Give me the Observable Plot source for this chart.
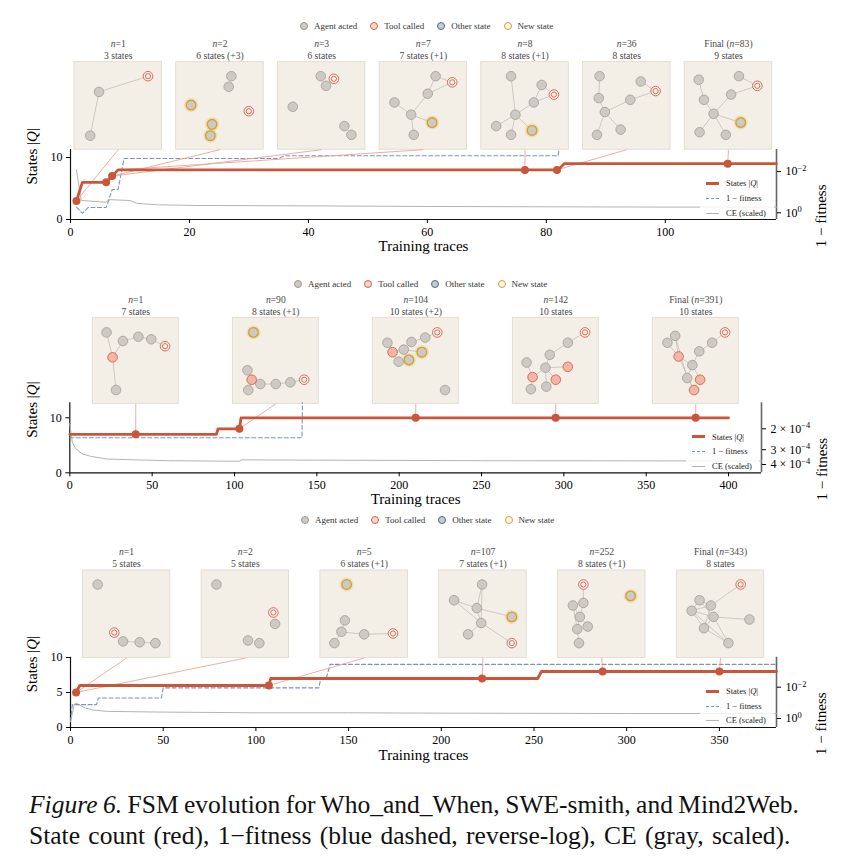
<!DOCTYPE html>
<html><head><meta charset="utf-8">
<script src="https://cdn.jsdelivr.net/npm/d3@7"></script>
<script src="https://cdn.jsdelivr.net/npm/@observablehq/plot@0.6"></script>
<style>
html,body{margin:0;padding:0;background:#fff;overflow:hidden;}
#page{position:relative;width:856px;height:867px;overflow:hidden;font-family:"Liberation Serif",serif;}
.panel{position:absolute;left:0;}
.toplegend{position:absolute;display:flex;align-items:center;font-size:9px;color:#333;white-space:nowrap;height:12px;}
.toplegend .it{display:flex;align-items:center;margin-right:13px;}
.toplegend .mk{width:6px;height:6px;border-radius:50%;border:1.5px solid;margin-right:6px;}
.inleg{position:absolute;background:rgba(255,255,255,0.8);font-size:8.5px;color:#222;}
.inleg .row{position:absolute;left:0;height:10px;display:flex;align-items:center;white-space:nowrap;}
.inleg .smp{width:13px;margin-left:6px;margin-right:7px;}
.caption{position:absolute;left:29px;top:789px;font-size:25.5px;line-height:31px;color:#111;white-space:nowrap;}
.caption .l1{word-spacing:-0.9px;}
.caption .l2{word-spacing:2px;}
</style></head>
<body><div id="page"></div>
<script>
// ---------------- Panel 1: Who_and_When ----------------
const p1StateX = [1, 2, 6, 7, 8, 82, 83, 118.7];
const p1StateY = [3, 6, 6, 7, 8, 8, 9, 9];
const p1FitX = [1, 2, 3, 6, 7, 8, 9, 35, 36, 82, 82.3];
const p1FitV = [0.53, 1.05, 0.55, 0.55, 0.074, 0.074, 0.0023, 0.0023, 0.0017, 0.0017, 0.0003];
const p1CeX = [1, 1.8, 5.9, 6.7, 10, 11.2, 14.6, 21.8, 40, 60, 80, 100, 118.7];
const p1CeY = [8.0, 3.06, 2.8, 3.2, 3.06, 2.6, 2.37, 2.26, 2.2, 2.1, 2.05, 2.0, 2.0];
const p1MarkX = [1, 6, 7, 76.4, 81.8, 110.5];
const p1MarkY = [3, 6, 7, 8, 8, 9];
const p1Titles = ["n=1", "n=2", "n=3", "n=7", "n=8", "n=36", "Final (n=83)"];
const p1Subs = ["3 states", "6 states (+3)", "6 states", "7 states (+1)", "8 states (+1)", "8 states", "9 states"];
const p1LinkX = [1, 7, 7, 8, 76.4, 81.8, 110.5];
const p1LinkY = [3, 7, 7, 8, 8, 8, 9];
const p1XTicks = [0, 20, 40, 60, 80, 100];
const p1YTicks = [0, 10];
const p1FitTicks = [1, 0.01];
const p1FitLabels = ["10^0", "10^−2"];
const p1Nodes = [
  [[0.28,0.34,"a"],[0.18,0.84,"a"],[0.84,0.16,"t"]],
  [[0.63,0.16,"a"],[0.60,0.28,"a"],[0.17,0.49,"n"],[0.83,0.56,"t"],[0.41,0.71,"n"],[0.39,0.84,"n"]],
  [[0.49,0.16,"a"],[0.64,0.19,"t"],[0.55,0.27,"a"],[0.17,0.51,"a"],[0.76,0.73,"a"],[0.84,0.83,"a"]],
  [[0.64,0.16,"a"],[0.83,0.23,"t"],[0.55,0.36,"a"],[0.17,0.46,"a"],[0.36,0.60,"a"],[0.60,0.69,"n"],[0.39,0.83,"a"]],
  [[0.34,0.16,"a"],[0.69,0.26,"a"],[0.83,0.37,"t"],[0.60,0.46,"a"],[0.39,0.60,"a"],[0.17,0.73,"a"],[0.58,0.78,"n"],[0.34,0.83,"a"]],
  [[0.19,0.16,"a"],[0.66,0.22,"a"],[0.83,0.33,"t"],[0.18,0.41,"a"],[0.54,0.43,"a"],[0.25,0.57,"a"],[0.43,0.77,"a"],[0.16,0.83,"a"]],
  [[0.16,0.20,"a"],[0.62,0.16,"a"],[0.83,0.27,"t"],[0.53,0.37,"a"],[0.22,0.43,"a"],[0.33,0.59,"a"],[0.64,0.69,"n"],[0.17,0.80,"a"],[0.47,0.83,"a"]]
];
const p1Edges = [
  [[0,2],[0,1]], [], [],
  [[0,2],[1,2],[1,0],[2,4],[3,4],[4,5],[4,6]],
  [[0,4],[2,1],[2,3],[1,3],[3,4],[4,5],[4,6],[4,7]],
  [[0,3],[2,1],[2,4],[4,5],[3,5],[5,6],[5,7]],
  [[0,4],[2,1],[2,3],[3,5],[4,5],[5,6],[5,7],[5,8]]
];

// ---------------- Panel 2: SWE-smith ----------------
const p2StateX = [0, 89, 90, 103, 104, 400];
const p2StateY = [7, 7, 8, 8, 10, 10];
const p2FitX = [0, 141, 141.3];
const p2FitV = [2.38e-4, 2.38e-4, 1.0e-4];
const p2CeX = [0, 1.5, 3.5, 7.5, 12.6, 22.7, 40, 60, 100, 103, 104, 150, 250, 420];
const p2CeY = [8.9, 5.6, 4.4, 3.45, 3.0, 2.5, 2.35, 2.2, 2.1, 2.1, 2.35, 2.3, 2.2, 2.15];
const p2MarkX = [40, 103, 210, 295, 380];
const p2MarkY = [7, 8, 10, 10, 10];
const p2Titles = ["n=1", "n=90", "n=104", "n=142", "Final (n=391)"];
const p2Subs = ["7 states", "8 states (+1)", "10 states (+2)", "10 states", "10 states"];
const p2LinkX = [40, 103, 210, 295, 380];
const p2LinkY = [7, 8, 10, 10, 10];
const p2XTicks = [0, 50, 100, 150, 200, 250, 300, 350, 400];
const p2YTicks = [0, 10];
const p2FitTicks = [2e-4, 3e-4, 4e-4];
const p2FitLabels = ["2 × 10^−4", "3 × 10^−4", "4 × 10^−4"];
const p2Nodes = [
  [[0.16,0.17,"a"],[0.35,0.27,"a"],[0.53,0.22,"a"],[0.68,0.25,"a"],[0.84,0.33,"t"],[0.23,0.46,"r"],[0.27,0.84,"a"]],
  [[0.24,0.17,"n"],[0.17,0.61,"a"],[0.22,0.72,"r"],[0.32,0.77,"a"],[0.50,0.77,"a"],[0.67,0.75,"a"],[0.83,0.72,"t"],[0.18,0.84,"a"]],
  [[0.75,0.17,"t"],[0.61,0.23,"a"],[0.45,0.28,"a"],[0.17,0.29,"a"],[0.36,0.37,"a"],[0.23,0.40,"r"],[0.57,0.40,"n"],[0.30,0.51,"a"],[0.42,0.49,"n"],[0.84,0.84,"a"]],
  [[0.84,0.17,"t"],[0.64,0.29,"a"],[0.43,0.43,"a"],[0.16,0.52,"a"],[0.38,0.58,"a"],[0.64,0.57,"r"],[0.23,0.69,"r"],[0.50,0.72,"r"],[0.21,0.83,"a"],[0.39,0.80,"a"]],
  [[0.84,0.17,"t"],[0.26,0.21,"a"],[0.17,0.29,"a"],[0.69,0.29,"a"],[0.54,0.39,"a"],[0.30,0.45,"r"],[0.46,0.55,"a"],[0.40,0.70,"a"],[0.55,0.72,"r"],[0.48,0.84,"r"]]
];
const p2Edges = [
  [[0,5],[1,5],[5,6],[1,2],[2,3],[3,4]],
  [[1,2],[2,3],[3,4],[4,5],[5,6],[2,7]],
  [[0,1],[1,2],[2,4],[4,6],[4,5],[3,5],[5,7],[4,8]],
  [[0,1],[1,2],[2,4],[5,4],[3,6],[4,6],[4,7],[6,8],[4,9]],
  [[0,3],[3,4],[4,6],[1,5],[2,5],[5,6],[6,7],[6,8],[7,9],[1,7],[5,9]]
];

// ---------------- Panel 3: Mind2Web ----------------
const p3StateX = [3, 5, 107, 108, 252, 254, 380.8];
const p3StateY = [5, 6, 6, 7, 7, 8, 8];
const p3FitX = [0, 1, 14, 15, 49, 50, 134, 135, 138, 140, 380.8];
const p3FitV = [1.5, 0.13, 0.13, 0.049, 0.049, 0.011, 0.011, 0.0026, 0.0026, 0.00035, 0.00035];
const p3CeX = [0, 1, 2, 3, 5, 8, 12, 20, 50, 100, 150, 200, 300, 380.8];
const p3CeY = [0.8, 2.0, 3.3, 3.5, 3.2, 2.8, 2.5, 2.3, 2.2, 2.1, 2.1, 2.05, 2.0, 2.0];
const p3MarkX = [3, 107, 222, 287, 350];
const p3MarkY = [5, 6, 7, 8, 8];
const p3Titles = ["n=1", "n=2", "n=5", "n=107", "n=252", "Final (n=343)"];
const p3Subs = ["5 states", "5 states", "6 states (+1)", "7 states (+1)", "8 states (+1)", "8 states"];
const p3LinkX = [3, 3, 107, 222, 287, 350];
const p3LinkY = [5, 5, 6, 7, 8, 8];
const p3XTicks = [0, 50, 100, 150, 200, 250, 300, 350];
const p3YTicks = [0, 5, 10];
const p3FitTicks = [1, 0.01];
const p3FitLabels = ["10^0", "10^−2"];
const p3Nodes = [
  [[0.17,0.16,"a"],[0.36,0.71,"t"],[0.46,0.81,"a"],[0.65,0.82,"a"],[0.83,0.83,"a"]],
  [[0.17,0.16,"a"],[0.82,0.48,"t"],[0.84,0.61,"a"],[0.53,0.80,"a"],[0.66,0.83,"a"]],
  [[0.30,0.16,"n"],[0.28,0.57,"a"],[0.24,0.70,"a"],[0.50,0.73,"a"],[0.83,0.72,"t"],[0.16,0.83,"a"]],
  [[0.49,0.16,"a"],[0.17,0.34,"a"],[0.43,0.43,"a"],[0.83,0.53,"n"],[0.48,0.60,"a"],[0.33,0.73,"a"],[0.83,0.83,"t"]],
  [[0.29,0.16,"t"],[0.83,0.29,"n"],[0.29,0.37,"a"],[0.17,0.40,"a"],[0.25,0.53,"a"],[0.34,0.64,"a"],[0.22,0.67,"a"],[0.24,0.83,"a"]],
  [[0.73,0.16,"t"],[0.26,0.34,"a"],[0.39,0.40,"a"],[0.17,0.46,"a"],[0.42,0.53,"a"],[0.83,0.56,"a"],[0.31,0.66,"a"],[0.59,0.83,"a"]]
];
const p3Edges = [
  [[2,3],[3,4]], [],
  [[4,3],[3,2],[2,1],[2,5]],
  [[0,2],[1,2],[1,4],[3,2],[2,4],[4,5],[6,4],[0,4]],
  [[0,2],[2,4],[3,4],[4,5],[4,6],[6,7],[3,6]],
  [[0,2],[5,4],[1,2],[1,3],[2,3],[3,4],[1,4],[2,6],[3,6],[4,6],[6,7],[3,7],[4,7]]
];

// legend
const legendNames = ["Agent acted", "Tool called", "Other state", "New state"];
const legendFill = ["#cdc9c3", "#f5d6ce", "#cdc9c3", "#fbf6ea"];
const legendStroke = ["#9e9992", "#d9604a", "#4a6a9a", "#d2a033"];

const RED = "#c9553b", BLUE = "#7d94b8", CEG = "#b8b3ad";
const FONT = "Liberation Serif";
const page = document.getElementById("page");

function enrich(el) {
  const s = el.textContent;
  if (!/n=|\|Q\||\^/.test(s)) return;
  let h = s.replace(/&/g, "&amp;").replace(/</g, "&lt;");
  h = h.replace(/(^|\()n=/g, '$1<tspan font-style="italic">n</tspan>=');
  h = h.replace(/\|Q\|/g, '|<tspan font-style="italic">Q</tspan>|');
  h = h.replace(/\^(\S+)/g, '<tspan dy="-0.5em" font-size="0.7em">$1</tspan>');
  el.innerHTML = h;
}

function makePanel(c) {
  const top = c.top, H = c.height;
  const xs = d3.scaleLinear().domain([0, c.xmax]).range([c.x0, c.x1]);
  const ys = d3.scaleLinear().domain([0, 10]).range([c.y0 - top, c.y10 - top]);
  const yTop = ys.invert(c.spineTop - top);
  const fy = d3.scaleLog().domain(c.fitRef).range(c.fitRefPx.map(p => ys.invert(p - top)));
  const boxes = c.titles.map((t, i) => {
    const L = c.boxLeft + i * c.boxStep;
    return {title: t, sub: c.subs[i],
      x1: xs.invert(L), x2: xs.invert(L + c.boxSize),
      yt: ys.invert(c.boxTop - top), yb: ys.invert(c.boxTop + c.boxSize - top),
      cx: xs.invert(L + c.boxSize / 2), ty: ys.invert(c.titleY - top), sy: ys.invert(c.subY - top),
      lx: c.linkX[i], ly: c.linkY[i]};
  });
  const nodes = [], edges = [];
  c.nodes.forEach((ns, i) => {
    const L = c.boxLeft + i * c.boxStep, T = c.boxTop - top;
    const pts = ns.map(([u, v, k]) => ({x: xs.invert(L + u * c.boxSize), y: ys.invert(T + v * c.boxSize), k}));
    nodes.push(...pts);
    (c.edges[i] || []).forEach(([a, b]) => edges.push({x1: pts[a].x, y1: pts[a].y, x2: pts[b].x, y2: pts[b].y}));
  });
  const by = k => nodes.filter(d => d.k === k);
  const state = c.stateX.map((x, i) => ({x, y: c.stateY[i]}));
  const fit = c.fitX.map((x, i) => ({x, y: fy(c.fitV[i])}));
  const ce = c.ceX.map((x, i) => ({x, y: c.ceY[i]}));
  const mk = c.markX.map((x, i) => ({x, y: c.markY[i]}));
  const labelOf = new Map(c.fitTicks.map((v, i) => [fy(v), c.fitLabels[i]]));
  const svg = Plot.plot({
    width: 856, height: H,
    marginLeft: c.x0, marginRight: 856 - c.x1, marginTop: c.spineTop - top, marginBottom: H - (c.y0 - top),
    x: {domain: [0, c.xmax], range: [c.x0, c.x1]},
    y: {domain: [0, 10], range: [c.y0 - top, c.y10 - top]},
    style: {fontFamily: "'Liberation Serif', serif", background: "transparent", overflow: "visible"},
    marks: [
      Plot.rect(boxes, {x1: "x1", x2: "x2", y1: "yb", y2: "yt", fill: "#f3efe7", stroke: "#ddd7cc", strokeWidth: 0.8}),
      Plot.text(boxes, {x: "cx", y: "ty", text: "title", fontSize: 9.6, fill: "#4a4a4a", fontFamily: FONT}),
      Plot.text(boxes, {x: "cx", y: "sy", text: "sub", fontSize: 9.6, fill: "#4a4a4a", fontFamily: FONT}),
      Plot.link(edges, {x1: "x1", y1: "y1", x2: "x2", y2: "y2", stroke: "#bdb8b1", strokeWidth: 0.7}),
      Plot.dot(by("n"), {x: "x", y: "y", r: 7, fill: "#e9c77c", fillOpacity: 0.45}),
      Plot.dot(by("a"), {x: "x", y: "y", r: 4.8, fill: "#cdc9c3", stroke: "#a29d96", strokeWidth: 0.8}),
      Plot.dot(by("n"), {x: "x", y: "y", r: 4.8, fill: "#cdc9c3", stroke: "#d2a033", strokeWidth: 1.3}),
      Plot.dot(by("r"), {x: "x", y: "y", r: 4.8, fill: "#f2b6a9", stroke: "#d9604a", strokeWidth: 0.9}),
      Plot.dot(by("t"), {x: "x", y: "y", r: 4.8, fill: "#f8f3ee", stroke: "#dc6a55", strokeWidth: 1}),
      Plot.dot(by("t"), {x: "x", y: "y", r: 2.6, fill: "none", stroke: "#dc6a55", strokeWidth: 1}),
      Plot.ruleX([0], {y1: 0, y2: yTop, stroke: "#111", strokeWidth: 1.2}),
      Plot.ruleY([0], {x1: 0, x2: c.xmax, stroke: "#111", strokeWidth: 1.2}),
      Plot.ruleX([c.xmax], {y1: 0, y2: yTop, stroke: "#666", strokeWidth: 1.6}),
      Plot.line(ce, {x: "x", y: "y", stroke: CEG, strokeWidth: 1}),
      Plot.line(fit, {x: "x", y: "y", stroke: BLUE, strokeWidth: 1.1, strokeDasharray: "4,2.5", clip: true}),
      Plot.link(boxes, {x1: "cx", y1: "yb", x2: "lx", y2: "ly", stroke: "#eba596", strokeWidth: 0.9}),
      Plot.line(state, {x: "x", y: "y", stroke: RED, strokeWidth: 2.8}),
      Plot.dot(mk, {x: "x", y: "y", r: 4, fill: RED}),
      Plot.axisX(c.xTicks, {anchor: "bottom", tickSize: 4, tickPadding: 4, fontSize: 12, fontFamily: FONT, label: null}),
      Plot.axisY(c.yTicks, {anchor: "left", tickSize: 4, tickPadding: 4, fontSize: 12, fontFamily: FONT, label: null}),
      Plot.axisY(c.fitTicks.map(fy), {anchor: "right", tickSize: 4, tickPadding: 5, fontSize: 12, fontFamily: FONT, label: null, tickFormat: d => labelOf.get(d)}),
      Plot.text(["Training traces"], {text: d => d, frameAnchor: "bottom", dy: c.xLabelDy, fontSize: 15, fontFamily: FONT}),
      Plot.text(["States |Q|"], {text: d => d, frameAnchor: "left", rotate: -90, dx: -38, fontSize: 15, fontFamily: FONT}),
      Plot.text(["1 − fitness"], {text: d => d, frameAnchor: "right", rotate: -90, dx: c.rLabelDx, fontSize: 15, fontFamily: FONT})
    ]
  });
  svg.setAttribute("font-family", FONT);
  svg.querySelectorAll("text").forEach(t => {
    if (t.querySelector("tspan")) t.querySelectorAll("tspan").forEach(enrich); else enrich(t);
  });
  const wrap = document.createElement("div");
  wrap.className = "panel";
  wrap.style.top = top + "px";
  wrap.appendChild(svg);
  page.appendChild(wrap);

  // top legend
  const lg = document.createElement("div");
  lg.className = "toplegend";
  lg.style.left = c.legLeft + "px";
  lg.style.top = (c.legY - 6) + "px";
  lg.innerHTML = legendNames.map((n, i) =>
    `<div class="it"><div class="mk" style="background:${legendFill[i]};border-color:${legendStroke[i]}"></div>${n}</div>`).join("");
  page.appendChild(lg);

  // inner legend
  const il = document.createElement("div");
  il.className = "inleg";
  il.style.left = c.inLeft + "px";
  il.style.top = c.inTop + "px";
  il.style.width = c.inW + "px";
  il.style.height = c.inH + "px";
  const rows = [
    [`<div class="smp" style="border-top:3px solid ${RED}"></div>`, "States |<i>Q</i>|"],
    [`<div class="smp" style="border-top:1.2px dashed ${BLUE}"></div>`, "1 − fitness"],
    [`<div class="smp" style="border-top:1px solid ${CEG}"></div>`, "CE (scaled)"]
  ];
  il.innerHTML = rows.map((r, i) => `<div class="row" style="top:${c.inRows[i] - c.inTop - 5}px">${r[0]}${r[1]}</div>`).join("");
  page.appendChild(il);
}

makePanel({top: 0, height: 265, x0: 70, x1: 776, xmax: 118.7, y0: 219, y10: 157, spineTop: 149,
  xTicks: p1XTicks, yTicks: p1YTicks, fitRef: [1, 0.01], fitRefPx: [212.3, 171.1], fitTicks: p1FitTicks, fitLabels: p1FitLabels,
  boxLeft: 74, boxStep: 101.7, boxSize: 87.5, boxTop: 61.7, titleY: 43.3, subY: 55.7, xLabelDy: 31, rLabelDx: 45,
  titles: p1Titles, subs: p1Subs, nodes: p1Nodes, edges: p1Edges, linkX: p1LinkX, linkY: p1LinkY,
  stateX: p1StateX, stateY: p1StateY, fitX: p1FitX, fitV: p1FitV, ceX: p1CeX, ceY: p1CeY, markX: p1MarkX, markY: p1MarkY,
  legLeft: 300, legY: 26, inLeft: 700, inTop: 175, inW: 74, inH: 44, inRows: [183, 198, 213]});

makePanel({top: 265, height: 250, x0: 69.3, x1: 761, xmax: 420, y0: 472.3, y10: 417.3, spineTop: 402.3,
  xTicks: p2XTicks, yTicks: p2YTicks, fitRef: [2e-4, 4e-4], fitRefPx: [428.3, 464], fitTicks: p2FitTicks, fitLabels: p2FitLabels,
  boxLeft: 92.3, boxStep: 140, boxSize: 86, boxTop: 317.3, titleY: 299, subY: 311, xLabelDy: 31, rLabelDx: 61,
  titles: p2Titles, subs: p2Subs, nodes: p2Nodes, edges: p2Edges, linkX: p2LinkX, linkY: p2LinkY,
  stateX: p2StateX, stateY: p2StateY, fitX: p2FitX, fitV: p2FitV, ceX: p2CeX, ceY: p2CeY, markX: p2MarkX, markY: p2MarkY,
  legLeft: 294, legY: 283.5, inLeft: 686, inTop: 429, inW: 73, inH: 43, inRows: [436.7, 451, 466]});

makePanel({top: 515, height: 262, x0: 70, x1: 776, xmax: 380.8, y0: 727, y10: 657, spineTop: 656.7,
  xTicks: p3XTicks, yTicks: p3YTicks, fitRef: [1, 0.01], fitRefPx: [718, 686.7], fitTicks: p3FitTicks, fitLabels: p3FitLabels,
  boxLeft: 82.3, boxStep: 118.8, boxSize: 87.5, boxTop: 570, titleY: 551.7, subY: 563.3, xLabelDy: 32, rLabelDx: 45,
  titles: p3Titles, subs: p3Subs, nodes: p3Nodes, edges: p3Edges, linkX: p3LinkX, linkY: p3LinkY,
  stateX: p3StateX, stateY: p3StateY, fitX: p3FitX, fitV: p3FitV, ceX: p3CeX, ceY: p3CeY, markX: p3MarkX, markY: p3MarkY,
  legLeft: 301, legY: 520, inLeft: 700, inTop: 683, inW: 74, inH: 44, inRows: [691, 706, 720]});

const cap = document.createElement("div");
cap.className = "caption";
cap.innerHTML = '<div class="l1"><i>Figure 6.</i> FSM evolution for Who_and_When, SWE-smith, and Mind2Web.</div><div class="l2">State count (red), 1−fitness (blue dashed, reverse-log), CE (gray, scaled).</div>';
page.appendChild(cap);
</script>
</body></html>
